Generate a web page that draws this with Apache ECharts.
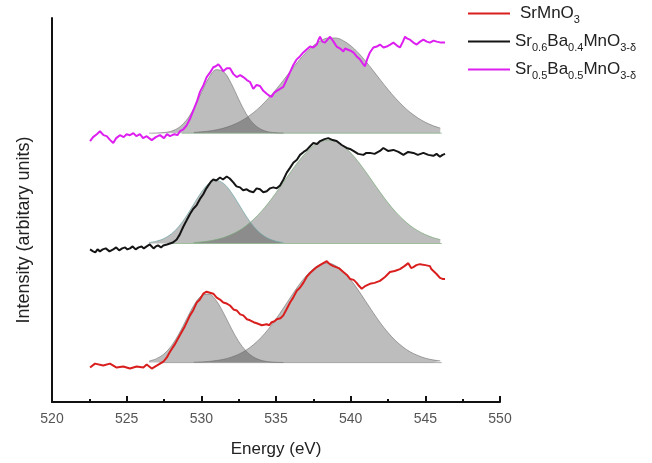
<!DOCTYPE html>
<html>
<head>
<meta charset="utf-8">
<script src="https://cdn.jsdelivr.net/npm/echarts@6/dist/echarts.min.js"></script>
<style>
  html, body { margin: 0; padding: 0; background: #fff; }
  #chart { width: 652px; height: 463px; }
</style>
</head>
<body>
<div id="chart"></div>
<script>
// O K-edge spectra, each trace shifted vertically (arbitrary units)
const srEnergy = [522.55, 522.88, 523.43, 523.88, 524.33, 524.77, 525.22, 525.67, 526.12, 526.34,
  526.68, 527.01, 527.46, 527.68, 527.9, 528.2, 528.57, 528.9, 529.24, 529.45,
  529.69, 529.9, 530.13, 530.35, 530.58, 530.8, 531.03, 531.25, 531.47, 531.7,
  531.92, 532.15, 532.37, 532.6, 532.81, 533.05, 533.26, 533.5, 533.71, 534.05,
  534.38, 534.55, 534.71, 534.9, 535.05, 535.3, 535.49, 535.7, 535.94, 536.15,
  536.39, 536.6, 536.83, 537.05, 537.28, 537.5, 537.73, 538.05, 538.4, 538.6,
  538.84, 539.2, 539.51, 539.75, 539.96, 540.2, 540.4, 540.55, 540.74, 541.0,
  541.29, 541.6, 541.96, 542.3, 542.63, 542.95, 543.3, 543.6, 543.86, 544.05,
  544.2, 544.4, 544.64, 545.0, 545.31, 545.4, 545.54, 545.75, 545.98, 546.15, 546.32];
const srIntensity = [35, 39, 37, 39, 35, 36, 34, 36, 35, 38,
  34, 37, 41, 45, 51, 58, 68, 77, 88, 93,
  101, 104, 110, 112, 111, 110, 106, 104, 101, 100,
  98, 94, 93, 89, 88, 84, 83, 81, 80, 78,
  79, 78, 81, 82, 84, 85, 88, 94, 101, 106,
  113, 116, 121, 127, 131, 134, 137, 140, 143, 140,
  138, 136, 132, 129, 125, 124, 121, 118, 115, 118,
  120, 121, 123, 127, 132, 133, 135, 138, 141, 136,
  137, 139, 140, 139, 138, 135, 133, 130, 126, 125, 125];

const ba4Energy = [522.55, 522.75, 522.9, 523.05, 523.21, 523.4, 523.6, 523.85, 524.1, 524.3,
  524.5, 524.7, 524.9, 525.05, 525.22, 525.4, 525.6, 525.8, 526.0, 526.15,
  526.34, 526.55, 526.8, 526.95, 527.1, 527.3, 527.45, 527.7, 527.9, 528.1,
  528.35, 528.55, 528.79, 529.0, 529.24, 529.45, 529.69, 529.9, 530.13, 530.3,
  530.47, 530.65, 530.8, 531.0, 531.25, 531.45, 531.7, 531.9, 532.14, 532.35,
  532.59, 532.8, 533.04, 533.25, 533.48, 533.7, 533.93, 534.15, 534.38, 534.6,
  534.82, 535.05, 535.27, 535.5, 535.72, 535.95, 536.16, 536.4, 536.61, 536.85,
  537.06, 537.3, 537.5, 537.75, 537.95, 538.25, 538.5, 538.8, 539.06, 539.4,
  539.73, 539.95, 540.18, 540.5, 540.85, 541.05, 541.29, 541.6, 541.96, 542.19,
  542.5, 542.86, 543.2, 543.53, 543.85, 544.2, 544.5, 544.87, 545.2, 545.54,
  545.75, 545.98, 546.15, 546.32];
const ba4Intensity = [155, 153, 152, 155, 153, 155, 156, 153, 155, 157,
  154, 156, 157, 155, 156, 158, 155, 157, 158, 156,
  158, 160, 156, 158, 159, 157, 159, 160, 161, 162,
  165, 170, 178, 184, 191, 196, 200, 206, 211, 216,
  220, 224, 226, 225, 228, 226, 229, 227, 223, 219,
  218, 215, 216, 214, 213, 217, 216, 213, 214, 217,
  218, 217, 220, 226, 233, 238, 243, 246, 251, 254,
  256, 260, 263, 262, 265, 267, 268, 266, 265, 261,
  258, 257, 255, 252, 251, 253, 253, 252, 255, 258,
  255, 256, 254, 251, 254, 253, 251, 253, 251, 250,
  252, 249, 251, 252];

const ba5Energy = [522.55, 522.75, 523.0, 523.21, 523.45, 523.66, 523.9, 524.1, 524.3, 524.55,
  524.8, 525.0, 525.22, 525.45, 525.65, 525.89, 526.1, 526.34, 526.5, 526.68,
  526.95, 527.23, 527.5, 527.7, 527.9, 528.2, 528.4, 528.57, 528.8, 529.02,
  529.25, 529.46, 529.7, 529.91, 530.15, 530.36, 530.6, 530.8, 530.97, 531.14,
  531.3, 531.47, 531.7, 531.92, 532.15, 532.37, 532.6, 532.81, 533.05, 533.26,
  533.48, 533.7, 533.93, 534.15, 534.38, 534.55, 534.71, 534.88, 535.05, 535.27,
  535.49, 535.7, 535.94, 536.15, 536.39, 536.6, 536.83, 537.05, 537.28, 537.5,
  537.73, 537.85, 537.95, 538.1, 538.28, 538.45, 538.62, 538.85, 539.06, 539.3,
  539.51, 539.62, 539.73, 539.95, 540.18, 540.4, 540.62, 540.8, 540.96, 541.1,
  541.29, 541.52, 541.75, 541.96, 542.2, 542.41, 542.65, 542.86, 543.1, 543.3,
  543.5, 543.64, 543.8, 543.97, 544.2, 544.42, 544.65, 544.87, 545.1, 545.31,
  545.55, 545.76, 546.05, 546.32];
const ba5Intensity = [265, 269, 272, 275, 271, 270, 266, 263, 268, 271,
  269, 272, 271, 273, 270, 272, 268, 270, 268, 266,
  269, 271, 268, 272, 270, 272, 271, 275, 277, 281,
  288, 296, 305, 315, 322, 330, 335, 340, 341, 343,
  340, 336, 339, 339, 333, 330, 332, 330, 327, 325,
  318, 322, 321, 316, 313, 311, 310, 314, 316, 318,
  320, 327, 335, 342, 348, 351, 355, 358, 361, 360,
  363, 368, 371, 366, 365, 368, 371, 366, 361, 359,
  356, 359, 360, 357, 355, 351, 348, 344, 341, 348,
  355, 360, 361, 363, 360, 361, 363, 365, 362, 360,
  366, 371, 369, 368, 365, 363, 366, 368, 366, 365,
  367, 366, 365, 365];

// Peak-fit components: heights above each fit baseline
const fitGridLow = [526.5, 527, 527.5, 528, 528.5, 529, 529.5, 530, 530.5, 531, 531.5, 532, 532.5, 533, 533.5,
  534, 534.5, 535, 535.5];
const fitGridHigh = [529.5, 530, 530.5, 531, 531.5, 532, 532.5, 533, 533.5, 534, 534.5, 535, 535.5, 536, 536.5,
  537, 537.5, 538, 538.5, 539, 539.5, 540, 540.5, 541, 541.5, 542, 542.5, 543, 543.5, 544, 544.5, 545, 545.5, 546];

const srFitLow = [1.6, 4.0, 8.8, 17.1, 29.2, 44.0, 58.2, 67.8, 69.6, 62.9, 50.0, 35.0, 21.5, 11.7, 5.6, 2.3, 0.9, 0.3, 0.1];
const srFitHigh = [0.4, 0.7, 1.2, 2.1, 3.4, 5.5, 8.5, 12.7, 18.3, 25.5, 34.2, 44.4, 55.5, 67.0, 78.1, 87.8, 95.3,
  99.9, 100.9, 98.4, 92.7, 84.2, 73.8, 62.4, 51.0, 40.1, 30.5, 22.4, 15.9, 10.8, 7.2, 4.5, 2.8, 1.7];
const ba4FitLow = [0.9, 2.3, 5.0, 9.8, 17.4, 27.8, 40.1, 52.0, 60.8, 64.0, 60.8, 52.0, 40.1, 27.8, 17.4, 9.8, 5.0, 2.3, 0.9];
const ba4FitHigh = [0.9, 1.6, 2.5, 4.0, 6.0, 9.0, 12.9, 18.0, 24.5, 32.3, 41.3, 51.5, 62.2, 73.0, 83.2, 92.1, 99.1,
  103.5, 105.0, 103.5, 99.1, 92.1, 83.2, 73.0, 62.2, 51.5, 41.3, 32.3, 24.5, 18.0, 12.9, 9.0, 6.0, 4.0];
const ba5FitLow = [0, 0.2, 0.6, 2.1, 5.7, 13.1, 25.3, 41.1, 56.1, 64.5, 62.3, 50.6, 34.5, 19.8, 9.6, 3.9, 1.3, 0.4, 0.1];
const ba5FitHigh = [0.8, 1.4, 2.2, 3.4, 5.2, 7.7, 11.1, 15.5, 21.0, 27.7, 35.6, 44.4, 53.9, 63.7, 73.2, 81.8, 88.9,
  94.0, 96.7, 96.7, 94.0, 88.9, 81.8, 73.2, 63.7, 53.9, 44.4, 35.6, 27.7, 21.0, 15.5, 11.1, 7.7, 5.2];

// fit baselines (vertical offset of each trace) and their energy span
const fitBase = { sr: 40, ba4: 161, ba5: 273 };
const fitSpan = { sr: [527.2, 546.1], ba4: [527.9, 546.1], ba5: [528.7, 546.1] };

const xTicks = [520, 525, 530, 535, 540, 545, 550];

const names = {
  sr: 'SrMnO3',
  ba4: 'Sr0.6Ba0.4MnO3-δ',
  ba5: 'Sr0.5Ba0.5MnO3-δ'
};
const colors = { sr: '#d91e1e', ba4: '#151515', ba5: '#dd1ff0' };

const pair = (xs, ys, off) => xs.map((x, i) => [x, ys[i] + (off || 0)]);

const fillColor = 'rgba(0,0,0,0.26)';
function fitSeries(grid, vals, base, edge) {
  return {
    type: 'line',
    data: pair(grid, vals, base),
    smooth: 0.35,
    symbol: 'none',
    silent: true,
    z: 1,
    lineStyle: { color: edge, width: 1 },
    areaStyle: { color: fillColor, opacity: 1, origin: base }
  };
}
function baseSeries(span, base, col) {
  return {
    type: 'line',
    data: [[span[0], base], [span[1], base]],
    symbol: 'none',
    silent: true,
    z: 1,
    lineStyle: { color: col, width: 1 }
  };
}
function traceSeries(key, xs, ys) {
  return {
    name: names[key],
    type: 'line',
    data: pair(xs, ys),
    symbol: 'none',
    z: 3,
    lineStyle: { color: colors[key], width: 2 },
    itemStyle: { color: colors[key] }
  };
}

const legendText = {
  'SrMnO3': '{gap|}{n|SrMnO}{s|3}',
  'Sr0.6Ba0.4MnO3-δ': '{n|Sr}{s|0.6}{n|Ba}{s|0.4}{n|MnO}{s|3-δ}',
  'Sr0.5Ba0.5MnO3-δ': '{n|Sr}{s|0.5}{n|Ba}{s|0.5}{n|MnO}{s|3-δ}'
};

const font = 'Liberation Sans, Arial, sans-serif';
const chart = echarts.init(document.getElementById('chart'), null, { renderer: 'canvas' });
chart.setOption({
  animation: false,
  backgroundColor: '#fff',
  textStyle: { fontFamily: font },
  grid: { left: 52, right: 152, top: 18, bottom: 55 },
  legend: {
    orient: 'vertical',
    left: 468,
    top: 5,
    padding: 0,
    itemWidth: 42,
    itemHeight: 2,
    itemGap: 8,
    icon: 'rect',
    data: [names.sr, names.ba4, names.ba5],
    formatter: n => legendText[n],
    textStyle: {
      color: '#222',
      rich: {
        gap: { width: 5 },
        n: { fontSize: 17, lineHeight: 22, verticalAlign: 'middle', fontFamily: font, color: '#222' },
        s: { fontSize: 11, lineHeight: 23, verticalAlign: 'bottom', fontFamily: font, color: '#222' }
      }
    }
  },
  xAxis: {
    type: 'value',
    min: xTicks[0],
    max: xTicks[xTicks.length - 1],
    interval: 5,
    name: 'Energy (eV)',
    nameLocation: 'middle',
    nameGap: 39,
    nameTextStyle: { fontSize: 17, color: '#222', fontFamily: font },
    axisLine: { lineStyle: { color: '#111', width: 2 } },
    axisTick: { inside: true, length: 6, lineStyle: { color: '#111', width: 2 } },
    minorTick: { show: true, splitNumber: 2, length: 3, lineStyle: { color: '#111', width: 2 } },
    axisLabel: { fontSize: 14, color: '#555', margin: 10, fontFamily: font },
    splitLine: { show: false }
  },
  yAxis: {
    type: 'value',
    min: 0,
    max: 390,
    name: 'Intensity (arbitary units)',
    nameLocation: 'middle',
    nameGap: 19,
    nameTextStyle: { fontSize: 18, color: '#222', fontFamily: font, padding: [0, 40, 0, 0] },
    axisLine: { show: true, lineStyle: { color: '#111', width: 2 } },
    axisTick: { show: false },
    axisLabel: { show: false },
    splitLine: { show: false }
  },
  series: [
    baseSeries(fitSpan.sr, fitBase.sr, 'rgba(140,140,140,0.7)'),
    fitSeries(fitGridLow, srFitLow, fitBase.sr, 'rgba(110,110,110,0.6)'),
    fitSeries(fitGridHigh, srFitHigh, fitBase.sr, 'rgba(110,110,110,0.6)'),
    baseSeries(fitSpan.ba4, fitBase.ba4, 'rgba(140,180,140,0.8)'),
    fitSeries(fitGridLow, ba4FitLow, fitBase.ba4, 'rgba(110,165,165,0.7)'),
    fitSeries(fitGridHigh, ba4FitHigh, fitBase.ba4, 'rgba(120,170,120,0.7)'),
    baseSeries(fitSpan.ba5, fitBase.ba5, 'rgba(140,180,140,0.8)'),
    fitSeries(fitGridLow, ba5FitLow, fitBase.ba5, 'rgba(110,110,110,0.6)'),
    fitSeries(fitGridHigh, ba5FitHigh, fitBase.ba5, 'rgba(110,110,110,0.6)'),
    traceSeries('sr', srEnergy, srIntensity),
    traceSeries('ba4', ba4Energy, ba4Intensity),
    traceSeries('ba5', ba5Energy, ba5Intensity)
  ]
});
</script>
</body>
</html>
